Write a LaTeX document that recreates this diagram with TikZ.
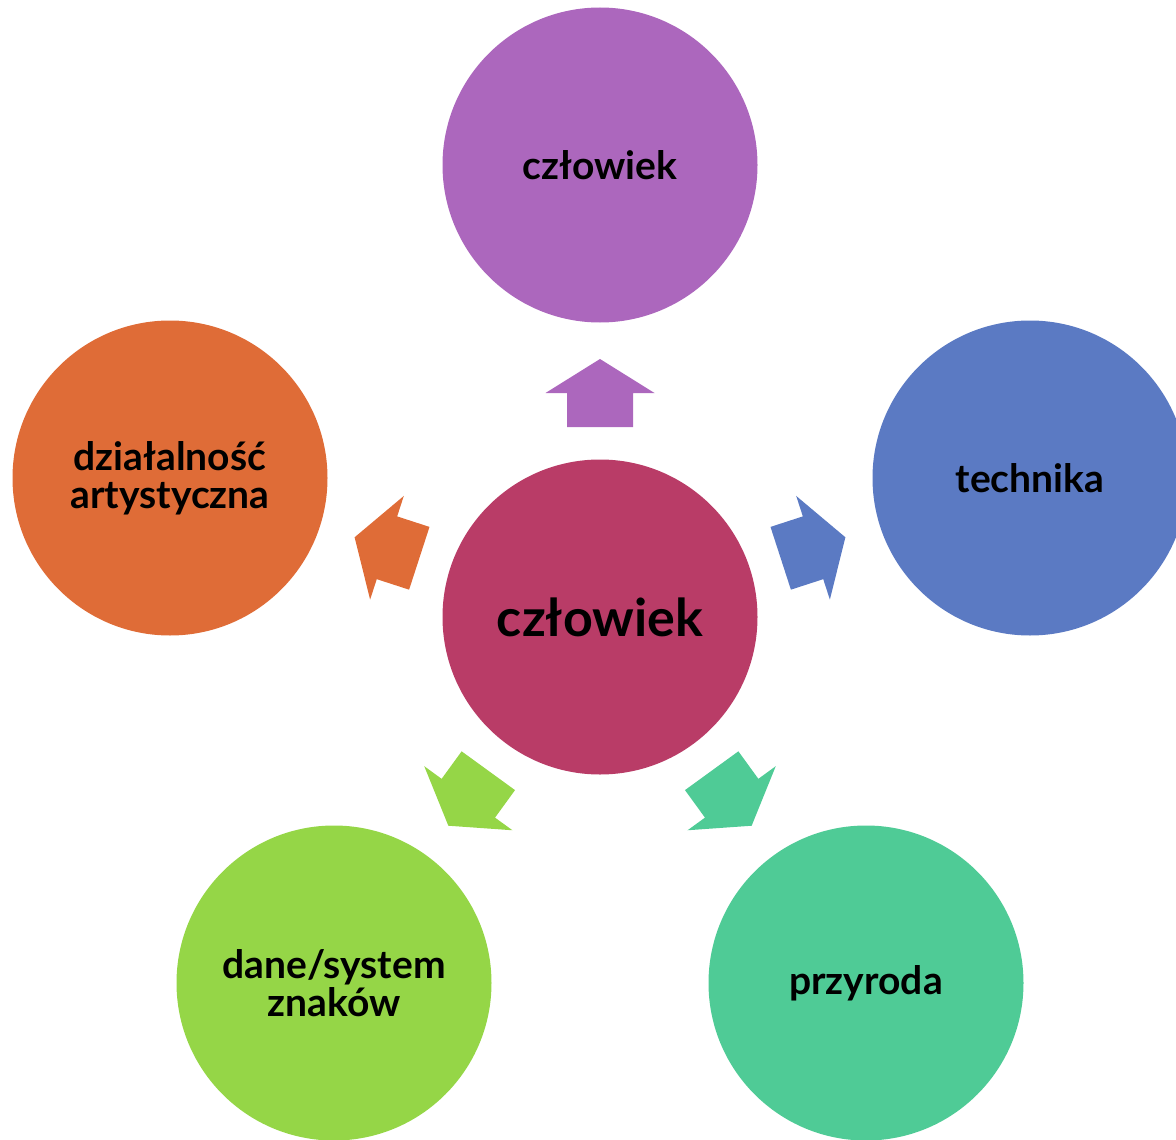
\documentclass[tikz,border=0pt]{standalone}
\usepackage{fontspec}
\setmainfont{Lato}
\begin{document}
\begin{tikzpicture}[x=1pt,y=-1pt,
  bubble/.style={circle, minimum size=315pt, inner sep=0pt, align=center,
    font=\fontsize{39}{38}\selectfont\bfseries, text=black},
  blockarrow/.style={draw=none}]
\definecolor{cPurple}{HTML}{AC67BD}
\definecolor{cCenter}{HTML}{B93C67}
\definecolor{cBlue}{HTML}{5B7AC3}
\definecolor{cOrange}{HTML}{DF6C37}
\definecolor{cGreen}{HTML}{95D647}
\definecolor{cTeal}{HTML}{4FCB96}
\useasboundingbox (0,0) rectangle (1176,1140);
\clip (0,0) rectangle (1176,1140);

\node[bubble, fill=cCenter, font=\fontsize{52}{56}\selectfont\bfseries] (center) at (600,617) {człowiek};
\node[bubble, fill=cPurple] (top) at (600,165) {człowiek};
\node[bubble, fill=cBlue] (right) at (1030,478) {technika};
\node[bubble, fill=cOrange] (left) at (170,478) {działalność\\artystyczna};
\node[bubble, fill=cGreen] (bl) at (334,983) {dane/system\\znaków};
\node[bubble, fill=cTeal] (br) at (866,983) {przyroda};

\foreach \ang/\col in {0/cPurple, -72/cBlue, 72/cOrange, 144/cGreen, -144/cTeal}{
  \begin{scope}[shift={(center.center)}, rotate=\ang]
    \fill[\col] (-33,-190) -- (-33,-224) -- (-54.5,-224) -- (0,-258) -- (54.5,-224) -- (33,-224) -- (33,-190) -- cycle;
  \end{scope}
}
\end{tikzpicture}
\end{document}
